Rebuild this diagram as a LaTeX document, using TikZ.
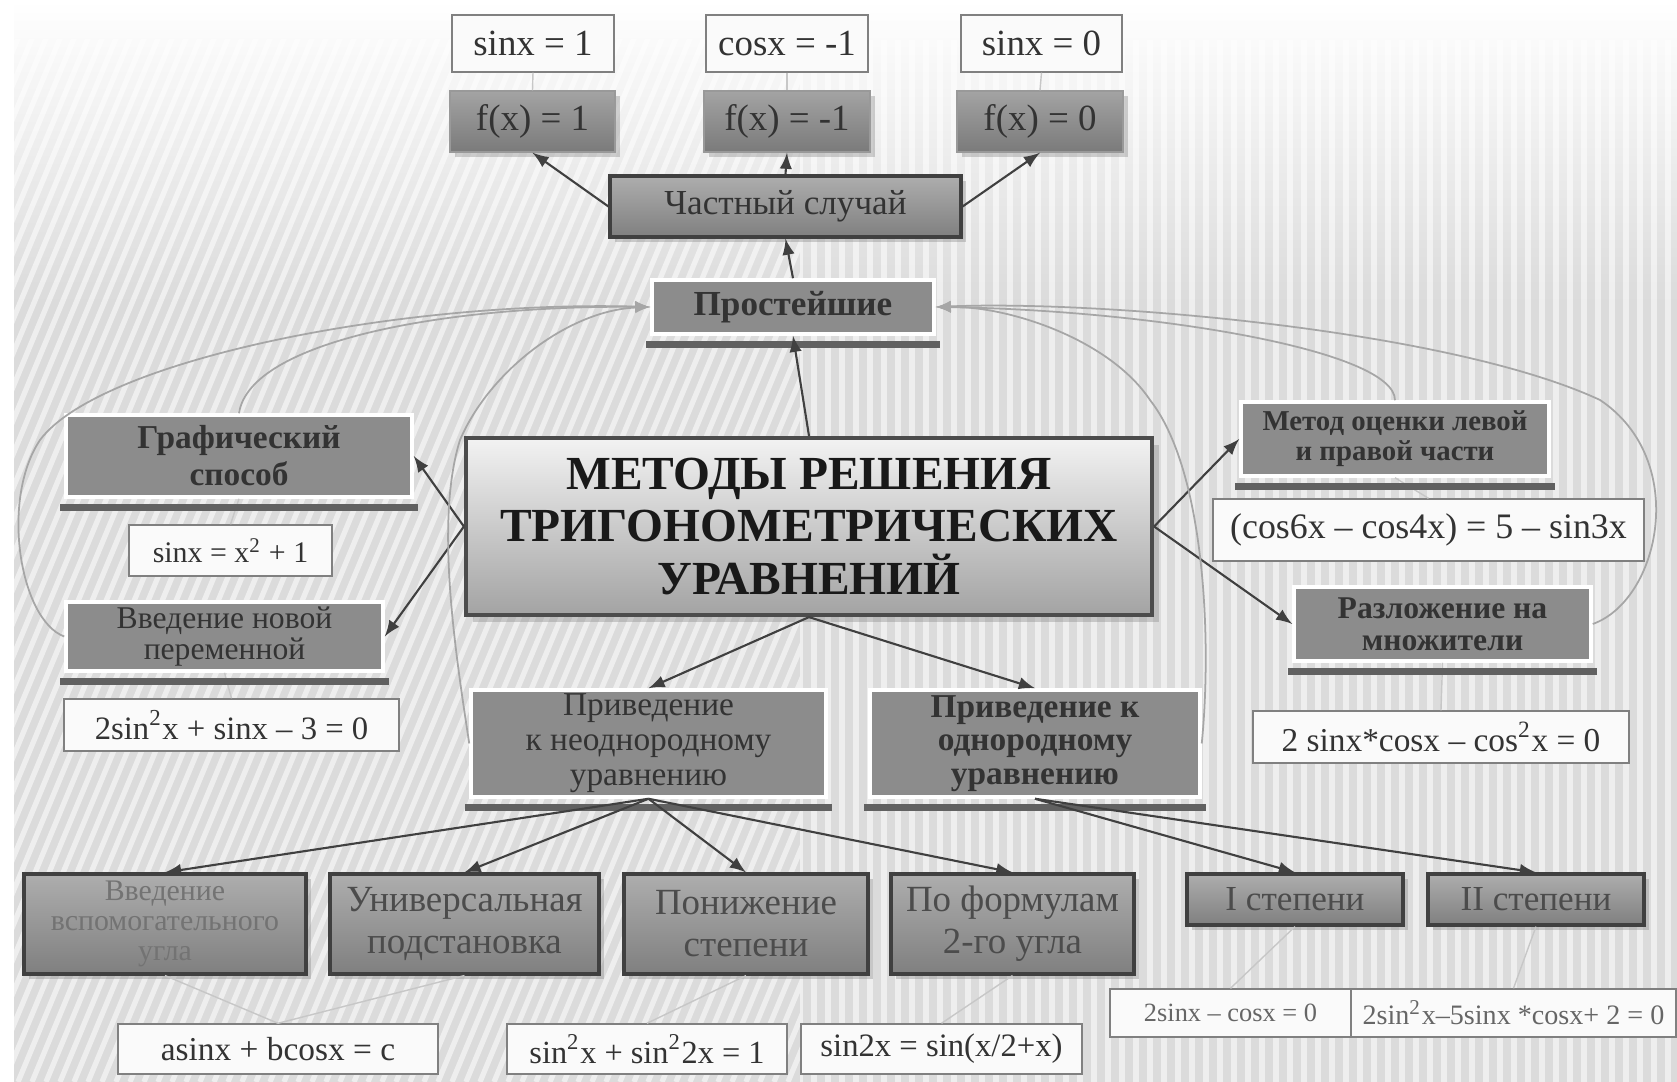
\documentclass[tikz,border=0pt]{standalone}
\usepackage{fontspec}
\setmainfont{Liberation Serif}
\usetikzlibrary{fit,shadows}

\newcommand{\fsz}[2]{\fontsize{#1}{#2}\selectfont}

\tikzset{
  lb/.style={align=center, text=black!80, inner sep=0pt},
  fml/.style={draw=black!50, fill=black!2, inner sep=0pt},
  fxbox/.style={inner sep=0pt, draw=black!40, top color=black!36, bottom color=black!52,
    drop shadow={shadow xshift=1.5pt, shadow yshift=-1.5pt, opacity=.35}},
  dbox/.style={inner sep=0pt, draw=black!75, line width=0.9pt, top color=black!32, bottom color=black!50,
    drop shadow={shadow xshift=1.5pt, shadow yshift=-1.5pt, opacity=.35}},
  tbox/.style={inner sep=0pt, draw=black!70, line width=1.2pt, top color=black!5, bottom color=black!36,
    drop shadow={shadow xshift=2pt, shadow yshift=-2pt, opacity=.35}},
  mbox/.style={inner sep=0pt, fill=black!45, draw=white, line width=1pt},
  ubar/.style={fill=black!62},
  lnk/.style={draw=black!75, line width=0.6pt},
  crv/.style={draw=black!35, line width=0.5pt},
  fnt/.style={draw=black!22, line width=0.4pt},
}

\begin{document}
\begin{tikzpicture}[x=0.1mm, y=-0.1mm]
        % background
        \useasboundingbox (0,0) rectangle (1677,1082);
        \fill[white] (0,0) rectangle (1677,1082);
        \shade[top color=white, bottom color=black!14] (14,0) rectangle (1677,300);
        \fill[black!14] (14,300) rectangle (1677,1082);
        \begin{scope}
            \clip (14,40) rectangle (800,1082);
            \foreach \x in {-500,-486,...,800}
                \draw[white, line width=1.5pt, opacity=0.55] (\x,1082) -- ++(450,-1082);
        \end{scope}
        \begin{scope}
            \clip (800,40) rectangle (1677,1082);
            \foreach \x in {800,814,...,1677}
                \draw[white, line width=1.5pt, opacity=0.55] (\x,40) -- (\x,1082);
        \end{scope}

        % top: particular cases
        \node[fml, fit={(452,15) (614,72)},   label={[lb, font=\fsz{10.5}{12}]center:sinx = 1}] (s1) {};
        \node[fml, fit={(706,15) (868,72)},   label={[lb, font=\fsz{10.5}{12}]center:cosx = -1}] (c1) {};
        \node[fml, fit={(961,15) (1122,72)},  label={[lb, font=\fsz{10.5}{12}]center:sinx = 0}] (s0) {};
        \node[fxbox, fit={(450,91) (615,152)},  label={[lb, font=\fsz{10.5}{12}]center:f(x) = 1}] (f1) {};
        \node[fxbox, fit={(704,91) (870,152)},  label={[lb, font=\fsz{10.5}{12}]center:f(x) = -1}] (fm) {};
        \node[fxbox, fit={(957,91) (1123,152)}, label={[lb, font=\fsz{10.5}{12}]center:f(x) = 0}] (f0) {};
        \node[dbox, fit={(610,176) (961,237)}, label={[lb, font=\fsz{10}{12}]center:Частный случай}] (ch) {};
        \node[mbox, fit={(652,280) (934,334)}, label={[lb, font=\fsz{10}{12}\bfseries]center:Простейшие}] (pr) {};

        % centre
        \node[tbox, fit={(466,438) (1152,615)}, label={[lb, text=black!90, font=\fsz{13.5}{15}\bfseries]center:МЕТОДЫ РЕШЕНИЯ\\ТРИГОНОМЕТРИЧЕСКИХ\\УРАВНЕНИЙ}] (mt) {};

        % left
        \node[mbox, fit={(66,415) (412,497)}, label={[lb, font=\fsz{9.5}{10.5}\bfseries]center:Графический\\способ}] (gr) {};
        \node[fml, fit={(129,525) (332,576)}, label={[lb, font=\fsz{8.5}{10}]center:sinx = x\textsuperscript{2} + 1}] (gx) {};
        \node[mbox, fit={(66,602) (383,671)}, label={[lb, font=\fsz{9}{9}]center:Введение новой\\переменной}] (nv) {};
        \node[fml, fit={(64,699) (399,751)}, label={[lb, font=\fsz{9.3}{11}]center:2sin\textsuperscript{2}x + sinx – 3 = 0}] (nx) {};

        % right
        \node[mbox, fit={(1241,402) (1549,476)}, label={[lb, font=\fsz{8.2}{8.5}\bfseries]center:Метод оценки левой\\и правой части}] (mo) {};
        \node[fml, fit={(1213,499) (1644,561)}, label={[lb, font=\fsz{10.2}{12}]center:(cos6x – cos4x) = 5 – sin3x}] (mx) {};
        \node[mbox, fit={(1294,587) (1591,661)}, label={[lb, font=\fsz{9}{9}\bfseries]center:Разложение на\\множители}] (rz) {};
        \node[fml, fit={(1253,711) (1629,763)}, label={[lb, font=\fsz{9.5}{11}]center:2 sinx*cosx – cos\textsuperscript{2}x = 0}] (rx) {};

        % middle
        \node[mbox, fit={(471,690) (826,797)}, label={[lb, font=\fsz{9.5}{10}]center:Приведение\\к неоднородному\\уравнению}] (pn) {};
        \node[mbox, fit={(870,690) (1200,797)}, label={[lb, font=\fsz{9.5}{9.5}\bfseries]center:Приведение к\\однородному\\уравнению}] (po) {};

        % bottom
        \node[dbox, fit={(24,874) (306,974)},   label={[lb, text=black!55, font=\fsz{8.5}{8.5}]center:Введение\\вспомогательного\\угла}] (vs) {};
        \node[dbox, fit={(330,874) (599,974)},  label={[lb, text=black!70, font=\fsz{10.5}{12}]center:Универсальная\\подстановка}] (us) {};
        \node[dbox, fit={(624,874) (868,974)},  label={[lb, text=black!70, font=\fsz{10.5}{12}]center:Понижение\\степени}] (ps) {};
        \node[dbox, fit={(891,874) (1134,974)}, label={[lb, text=black!70, font=\fsz{10.5}{12}]center:По формулам\\2-го угла}] (pf) {};
        \node[dbox, fit={(1187,874) (1403,925)}, label={[lb, text=black!70, font=\fsz{10}{12}]center:I степени}] (i1) {};
        \node[dbox, fit={(1428,874) (1644,925)}, label={[lb, text=black!70, font=\fsz{10}{12}]center:II степени}] (i2) {};

        \node[fml, fit={(118,1024) (438,1074)},  label={[lb, font=\fsz{9.5}{11}]center:asinx + bcosx = c}] (fa) {};
        \node[fml, fit={(507,1024) (787,1074)},  label={[lb, font=\fsz{9.2}{11}]center:sin\textsuperscript{2}x + sin\textsuperscript{2}2x = 1}] (fb) {};
        \node[fml, fit={(801,1024) (1082,1074)}, label={[lb, font=\fsz{9.3}{11}]center:sin2x = sin(x/2+x)}] (fc) {};
        \node[fml, fit={(1110,989) (1351,1037)}, label={[lb, text=black!60, font=\fsz{7.5}{9}]center:2sinx – cosx = 0}] (ta) {};
        \node[fml, fit={(1351,989) (1676,1037)}, label={[lb, text=black!60, font=\fsz{8}{9}]center:2sin\textsuperscript{2}x–5sinx *cosx+ 2 = 0}] (tb) {};

        % faint links to the examples
        \foreach \a/\b in {s1/f1, c1/fm, s0/f0, gr/gx, nv/nx, mo/mx, rz/rx, vs/fa, us/fa, ps/fb, pf/fc, i1/ta, i2/tb}
            \draw[fnt] (\a.south) -- (\b.north);

        % bars under the method boxes
        \foreach \n in {pr,gr,nv,mo,rz,pn,po}
            \fill[ubar] ([shift={(-4,5)}]\n.south west) rectangle ([shift={(4,12)}]\n.south east);

        \draw [-latex, lnk]     (ch.west)--(f1.south);
        \draw [-latex, lnk]     (ch.north)--(fm.south);
        \draw [-latex, lnk]     (ch.east)--(f0.south);
        \draw [-latex, lnk]     (pr.north)--(ch.south);
        \draw [-latex, lnk]     (mt.north)--(pr.south);
        \draw [-latex, lnk]     (mt.west)--(gr.east);
        \draw [-latex, lnk]     (mt.west)--(nv.east);
        \draw [-latex, lnk]     (mt.east)--(mo.west);
        \draw [-latex, lnk]     (mt.east)--(rz.west);
        \draw [-latex, lnk]     (mt.south)--(pn.north);
        \draw [-latex, lnk]     (mt.south)--(po.north);
        \foreach \n in {vs,us,ps,pf}
            \draw [-latex, lnk] (pn.south)--(\n.north);
        \foreach \n in {i1,i2}
            \draw [-latex, lnk] (po.south)--(\n.north);

        % grey curves back to the simplest ones
        \draw [-latex, crv] (gr.north) .. controls (250,340) and (450,305) .. (pr.west);
        \draw [-latex, crv] (nv.west) .. controls (20,620) and (0,500) .. (40,440) .. controls (100,360) and (400,300) .. (pr.west);
        \draw [-latex, crv] (pn.west) .. controls (455,650) and (435,520) .. (460,440) .. controls (490,370) and (570,310) .. (pr.west);
        \draw [-latex, crv] (mo.north) .. controls (1395,350) and (1150,310) .. (pr.east);
        \draw [-latex, crv] (rz.east) .. controls (1660,600) and (1690,460) .. (1600,400) .. controls (1450,330) and (1100,300) .. (pr.east);
        \draw [-latex, crv] (po.east) .. controls (1212,640) and (1205,470) .. (1150,400) .. controls (1110,340) and (1010,306) .. (pr.east);
    \end{tikzpicture}
\end{document}
